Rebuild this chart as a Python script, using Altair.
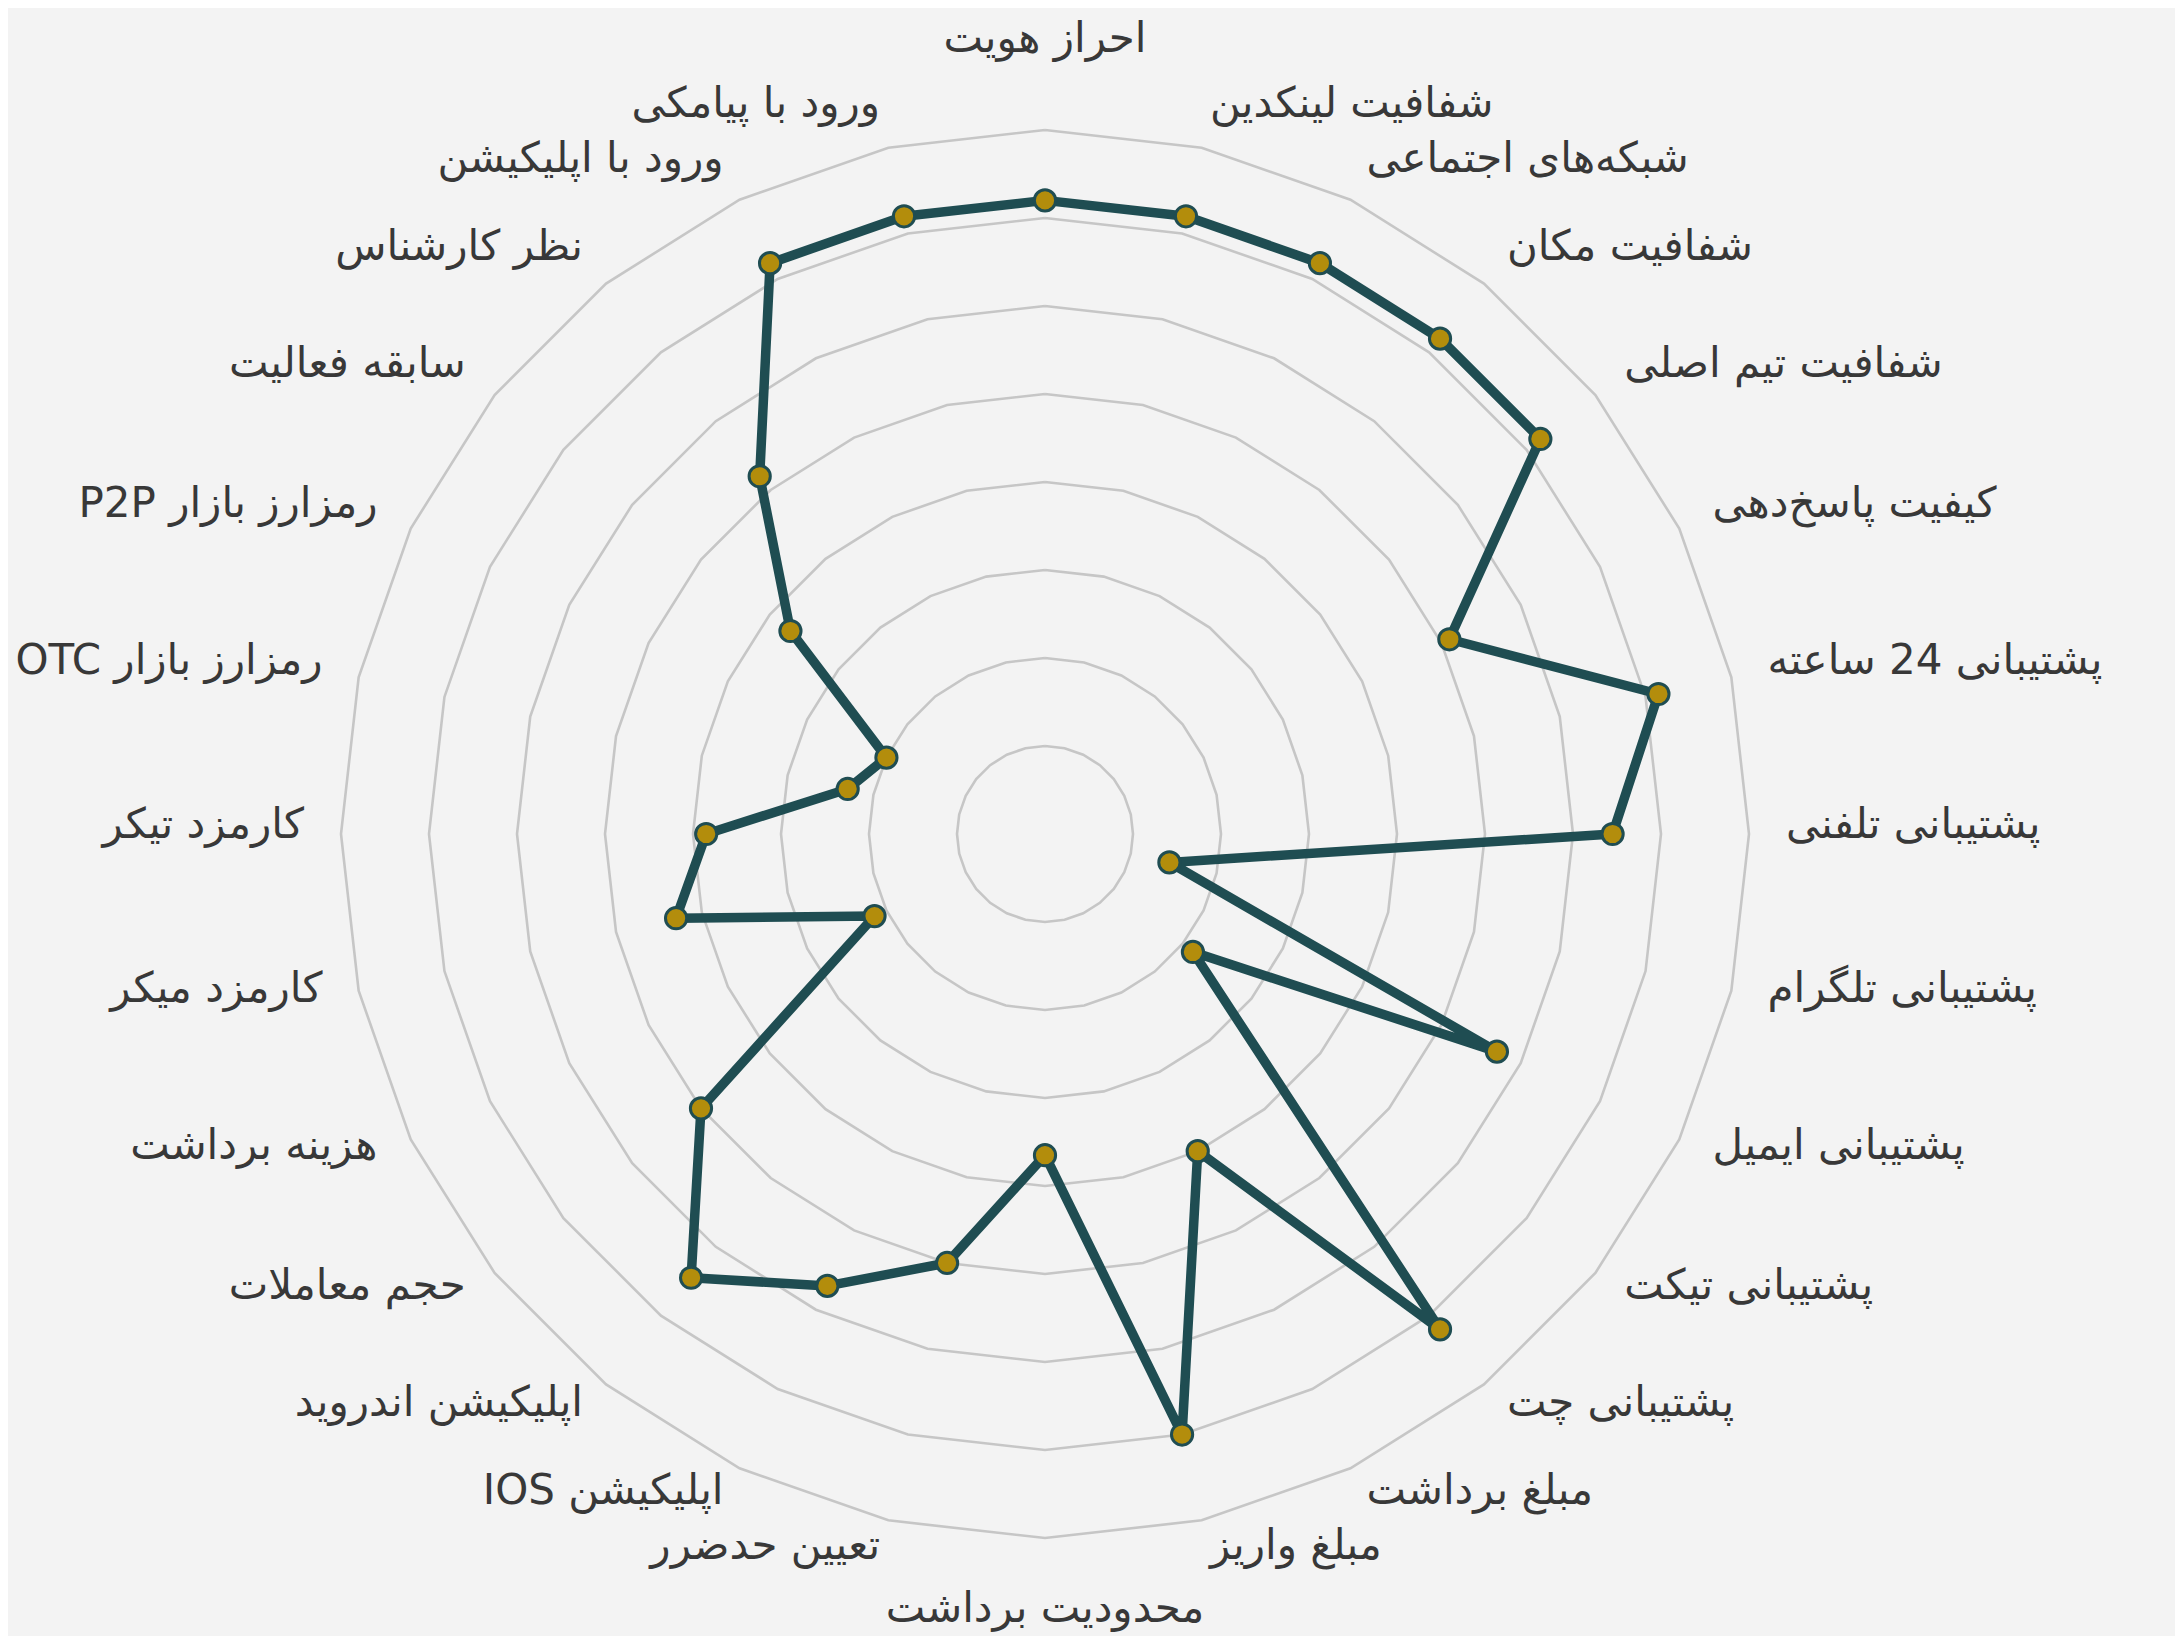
import math
import pandas as pd
import altair as alt

# ---- data ----
categories = [
    "احراز هویت", "شفافیت لینکدین", "شبکه‌های اجتماعی", "شفافیت مکان",
    "شفافیت تیم اصلی", "کیفیت پاسخ‌دهی", "پشتیبانی 24 ساعته", "پشتیبانی تلفنی",
    "پشتیبانی تلگرام", "پشتیبانی ایمیل", "پشتیبانی تیکت", "پشتیبانی چت",
    "مبلغ برداشت", "مبلغ واریز", "محدودیت برداشت", "تعیین حدضرر",
    "اپلیکیشن IOS", "اپلیکیشن اندروید", "حجم معاملات", "هزینه برداشت",
    "کارمزد میکر", "کارمزد تیکر", "رمزارز بازار OTC", "رمزارز بازار P2P",
    "سابقه فعالیت", "نظر کارشناس", "ورود با اپلیکیشن", "ورود با پیامکی",
]
values = [
    72, 72, 72, 72, 72, 51, 71.5, 64.5,
    14.5, 57, 21.5, 72, 40, 70, 36.5, 50,
    57, 64.5, 50, 21.5, 43, 38.5, 23, 20,
    37, 52, 72, 72,
]
ring_levels = [10, 20, 30, 40, 50, 60, 70, 80]

N = len(categories)

# ---- tables for the library ----
pts = pd.DataFrame({"idx": list(range(N)), "cat": categories, "value": values})
loop = pd.concat([pts, pts.iloc[[0]].assign(idx=N)], ignore_index=True)

grid = pd.DataFrame(
    [{"level": lv, "idx": k} for lv in ring_levels for k in range(N + 1)]
)

# ---- geometry of the view ----
W, H = 2167, 1628
PX = 8.8             # pixels per value unit
CX, CY = 1037, 826   # centre inside plot area (pixels)
xmin = -CX / PX
xmax = xmin + W / PX
ymax = CY / PX
ymin = ymax - H / PX

xs = alt.Scale(domain=[xmin, xmax], nice=False, zero=False)
ys = alt.Scale(domain=[ymin, ymax], nice=False, zero=False)
noax = None

ang = f"datum.idx * 2 * PI / {N}"

def X(field="x"):
    return alt.X(f"{field}:Q", scale=xs, axis=noax)

def Y(field="y"):
    return alt.Y(f"{field}:Q", scale=ys, axis=noax)

rings = (
    alt.Chart(grid)
    .transform_calculate(
        x=f"datum.level * sin({ang})", y=f"datum.level * cos({ang})"
    )
    .mark_line(color="#c6c6c6", strokeWidth=2.6)
    .encode(x=X(), y=Y(), detail="level:N", order="idx:Q")
)

line = (
    alt.Chart(loop)
    .transform_calculate(
        x=f"datum.value * sin({ang})", y=f"datum.value * cos({ang})"
    )
    .mark_line(color="#1f4d52", strokeWidth=9.5, strokeJoin="round")
    .encode(x=X(), y=Y(), order="idx:Q")
)

dots = (
    alt.Chart(pts)
    .transform_calculate(
        x=f"datum.value * sin({ang})", y=f"datum.value * cos({ang})"
    )
    .mark_point(filled=True, shape="circle", size=450, fill="#b38d0c",
                stroke="#1f4d52", strokeWidth=3, opacity=1)
    .encode(x=X(), y=Y())
)

RLX, RLY = 84.2, 84.0
font = "DejaVu Sans"
FS = 42
tcolor = "#383838"

def labels(filter_expr, align, dy=-9):
    return (
        alt.Chart(pts)
        .transform_filter(filter_expr)
        .transform_calculate(
            x=f"{RLX} * sin({ang})", y=f"{RLY} * cos({ang})",
            label="'\u202B' + datum.cat + '\u202C'",
        )
        .mark_text(font=font, fontSize=FS, color=tcolor, align=align,
                   baseline="middle", dy=dy)
        .encode(x=X(), y=Y(), text="label:N")
    )

lab_right = labels(f"datum.idx > 0 && datum.idx < {N // 2}", "left")
lab_left = labels(f"datum.idx > {N // 2}", "right")
lab_top = labels("datum.idx == 0", "center", dy=-56)
lab_bottom = labels(f"datum.idx == {N // 2}", "center", dy=36)

chart = (
    alt.layer(rings, line, dots, lab_right, lab_left, lab_top, lab_bottom)
    .properties(width=W, height=H, background="#f3f3f3", padding=0,
                autosize=alt.AutoSizeParams(type="none"))
    .configure_view(stroke=None)
)

chart.save("out.html", embed_options={"renderer": "svg", "actions": False})
